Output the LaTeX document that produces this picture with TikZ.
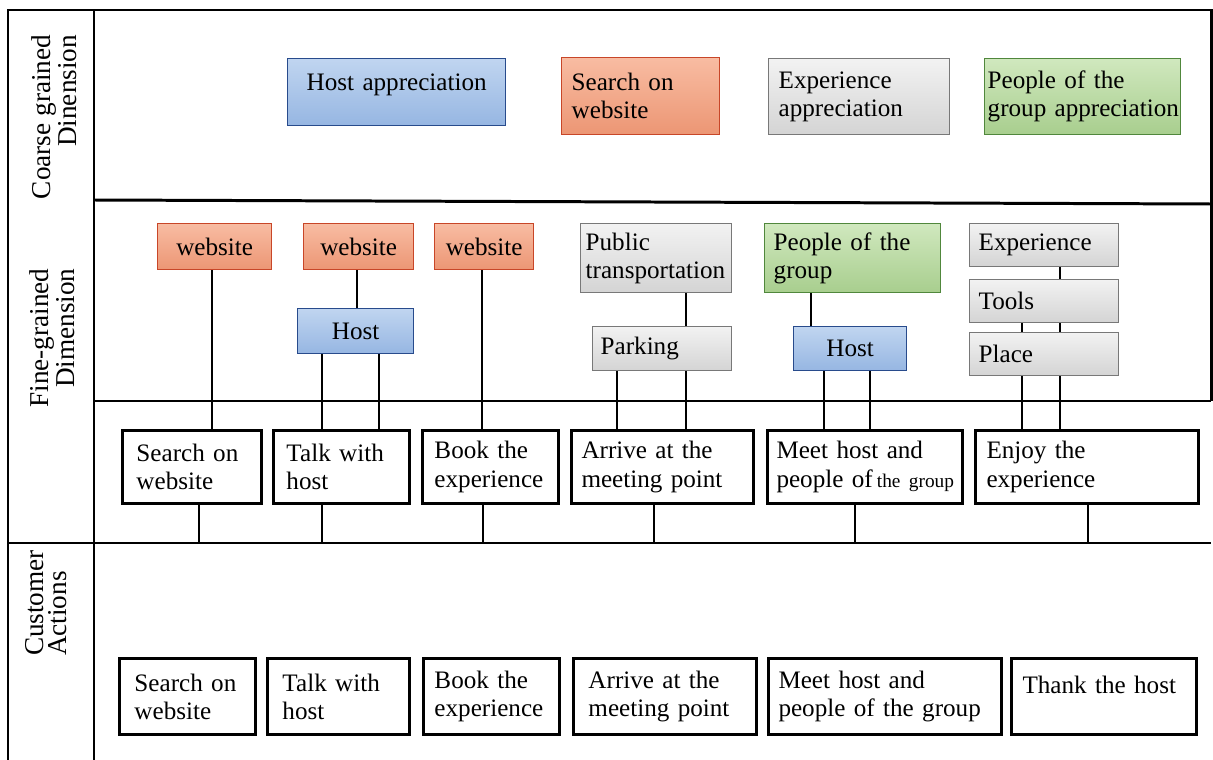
\documentclass[tikz,border=0pt]{standalone}
\usepackage{fontspec}
\setmainfont{Liberation Serif}

\definecolor{bluetop}{RGB}{192,213,240}
\definecolor{bluebot}{RGB}{150,182,226}
\definecolor{blueline}{RGB}{40,75,140}
\definecolor{orangetop}{RGB}{248,188,162}
\definecolor{orangebot}{RGB}{236,150,116}
\definecolor{orangeline}{RGB}{200,70,40}
\definecolor{greytop}{RGB}{242,242,242}
\definecolor{greybot}{RGB}{212,212,212}
\definecolor{greyline}{RGB}{120,120,120}
\definecolor{greentop}{RGB}{208,232,190}
\definecolor{greenbot}{RGB}{168,206,142}
\definecolor{greenline}{RGB}{80,135,60}

\newcommand{\boxfont}{\fontsize{14.3}{16}\selectfont}
\newcommand{\lanefont}{\fontsize{15.5}{13.5}\selectfont}
\newcommand{\smallgroup}{\fontsize{11}{16}\selectfont}

\tikzset{
  frame/.style={line width=1.7pt},
  link/.style={line width=1.3pt},
  tag/.style={anchor=north west, inner ysep=0pt, font=\boxfont, align=left},
  sz/.style n args={3}{inner xsep=#1cm, text width=#2cm, minimum height=#3cm},
  bluetag/.style={tag, draw=blueline, line width=0.8pt, top color=bluetop, bottom color=bluebot, align=center},
  orangetag/.style={tag, draw=orangeline, line width=0.8pt, top color=orangetop, bottom color=orangebot},
  greytag/.style={tag, draw=greyline, line width=0.8pt, top color=greytop, bottom color=greybot},
  greentag/.style={tag, draw=greenline, line width=0.8pt, top color=greentop, bottom color=greenbot},
  actbox/.style={tag, draw, line width=1.7pt, fill=white},
  lane/.style={rotate=90, font=\lanefont}
}

\begin{document}
\begin{tikzpicture}[x=0.02cm, y=-0.02cm]
  \fill[white] (0,0) rectangle (1213,760);
  \useasboundingbox (0,0) rectangle (1213,760);

  \draw[frame] (8,760) -- (8,10) -- (1211,10) -- (1211,401);
  \draw[frame] (94,10) -- (94,760);
  \draw[frame] (94,200) -- (1211,204);
  \draw[frame] (94,401) -- (1211,401);
  \draw[frame] (8,543) -- (1211,543);
  \coordinate (laneB) at (0,543);

  \node[lane, align=right] (coarseLbl) at (54,117) {Coarse grained\\Dinension};
  \node[lane, align=right] (fineLbl) at (52,338) {Fine-grained\\Dimension};
  \node[lane, align=left] (custLbl) at (46,603) {Customer\\Actions};

  \node[bluetag, sz={0.2}{3.96}{1.34}, text depth=0.40cm] (caHost) at (287,58) {Host appreciation};
  \node[orangetag, sz={0.2}{2.76}{1.54}] (caSearch) at (561,57) {Search on\\website};
  \node[greytag, sz={0.2}{3.22}{1.52}] (caExp) at (768,58) {Experience\\appreciation};
  \node[greentag, sz={0.06}{3.80}{1.52}] (caPeople) at (984,58) {People of the\\\mbox{group appreciation}};

  \node[orangetag, sz={0.2}{1.88}{0.92}, align=center] (web1) at (157,223) {website};
  \node[orangetag, sz={0.2}{1.80}{0.92}, align=center] (web2) at (303,223) {website};
  \node[orangetag, sz={0.2}{1.58}{0.92}, align=center] (web3) at (434,223) {website};
  \node[bluetag, sz={0.2}{1.92}{0.90}] (host1) at (297,308) {Host};
  \node[greytag, sz={0.1}{2.82}{1.38}] (pubTrans) at (580,223) {Public\\\mbox{transportation}};
  \node[greytag, sz={0.16}{2.46}{0.88}] (parking) at (592,326) {Parking};
  \node[greentag, sz={0.18}{3.16}{1.38}] (peopleGrp) at (764,223) {People of the\\group};
  \node[bluetag, sz={0.2}{1.86}{0.88}] (host2) at (793,326) {Host};
  \node[greytag, sz={0.18}{2.62}{0.86}] (expF) at (969,223) {Experience};
  \node[greytag, sz={0.18}{2.62}{0.86}] (tools) at (969,279) {Tools};
  \node[greytag, sz={0.18}{2.62}{0.86}] (place) at (969,332) {Place};

  \node[actbox, sz={0.28}{2.22}{1.46}] (fSearch) at (121,429) {Search on\\website};
  \node[actbox, sz={0.26}{2.20}{1.46}] (fTalk) at (272,429) {Talk with\\host};
  \node[actbox, sz={0.24}{2.24}{1.46}] (fBook) at (421,429) {Book the\\experience};
  \node[actbox, sz={0.2}{3.24}{1.46}] (fArrive) at (570,429) {Arrive at the\\meeting point};
  \node[actbox, sz={0.18}{3.54}{1.46}] (fMeet) at (766,429) {Meet host and\\\mbox{people of\,{\smallgroup the group}}};
  \node[actbox, sz={0.22}{4.02}{1.46}] (fEnjoy) at (974,429) {Enjoy the\\experience};

  \node[actbox, sz={0.3}{2.12}{1.52}] (cSearch) at (118,657) {Search on\\website};
  \node[actbox, sz={0.3}{2.24}{1.52}] (cTalk) at (266,657) {Talk with\\host};
  \node[actbox, sz={0.22}{2.28}{1.52}] (cBook) at (422,657) {Book the\\experience};
  \node[actbox, sz={0.3}{3.06}{1.52}] (cArrive) at (572,657) {Arrive at the\\meeting point};
  \node[actbox, sz={0.2}{4.26}{1.52}] (cMeet) at (767,657) {Meet host and\\people of the group};
  \node[actbox, sz={0.22}{3.26}{1.52}, text depth=0.46cm] (cThank) at (1010,657) {Thank the host};

  \foreach \x/\a/\b in {212/web1/fSearch, 357/web2/host1, 322/host1/fTalk, 379/host1/fTalk,
      482/web3/fBook, 686/pubTrans/parking, 617/parking/fArrive, 686/parking/fArrive,
      811/peopleGrp/host2, 824/host2/fMeet, 870/host2/fMeet, 1060/expF/tools,
      1022/tools/place, 1060/tools/place, 1022/place/fEnjoy, 1060/place/fEnjoy}
    \draw[link] (\x,0 |- \a.south) -- (\x,0 |- \b.north);

  \foreach \x/\a in {199/fSearch, 322/fTalk, 483/fBook, 654/fArrive, 855/fMeet, 1088/fEnjoy}
    \draw[link] (\x,0 |- \a.south) -- (\x,0 |- laneB);
\end{tikzpicture}
\end{document}
